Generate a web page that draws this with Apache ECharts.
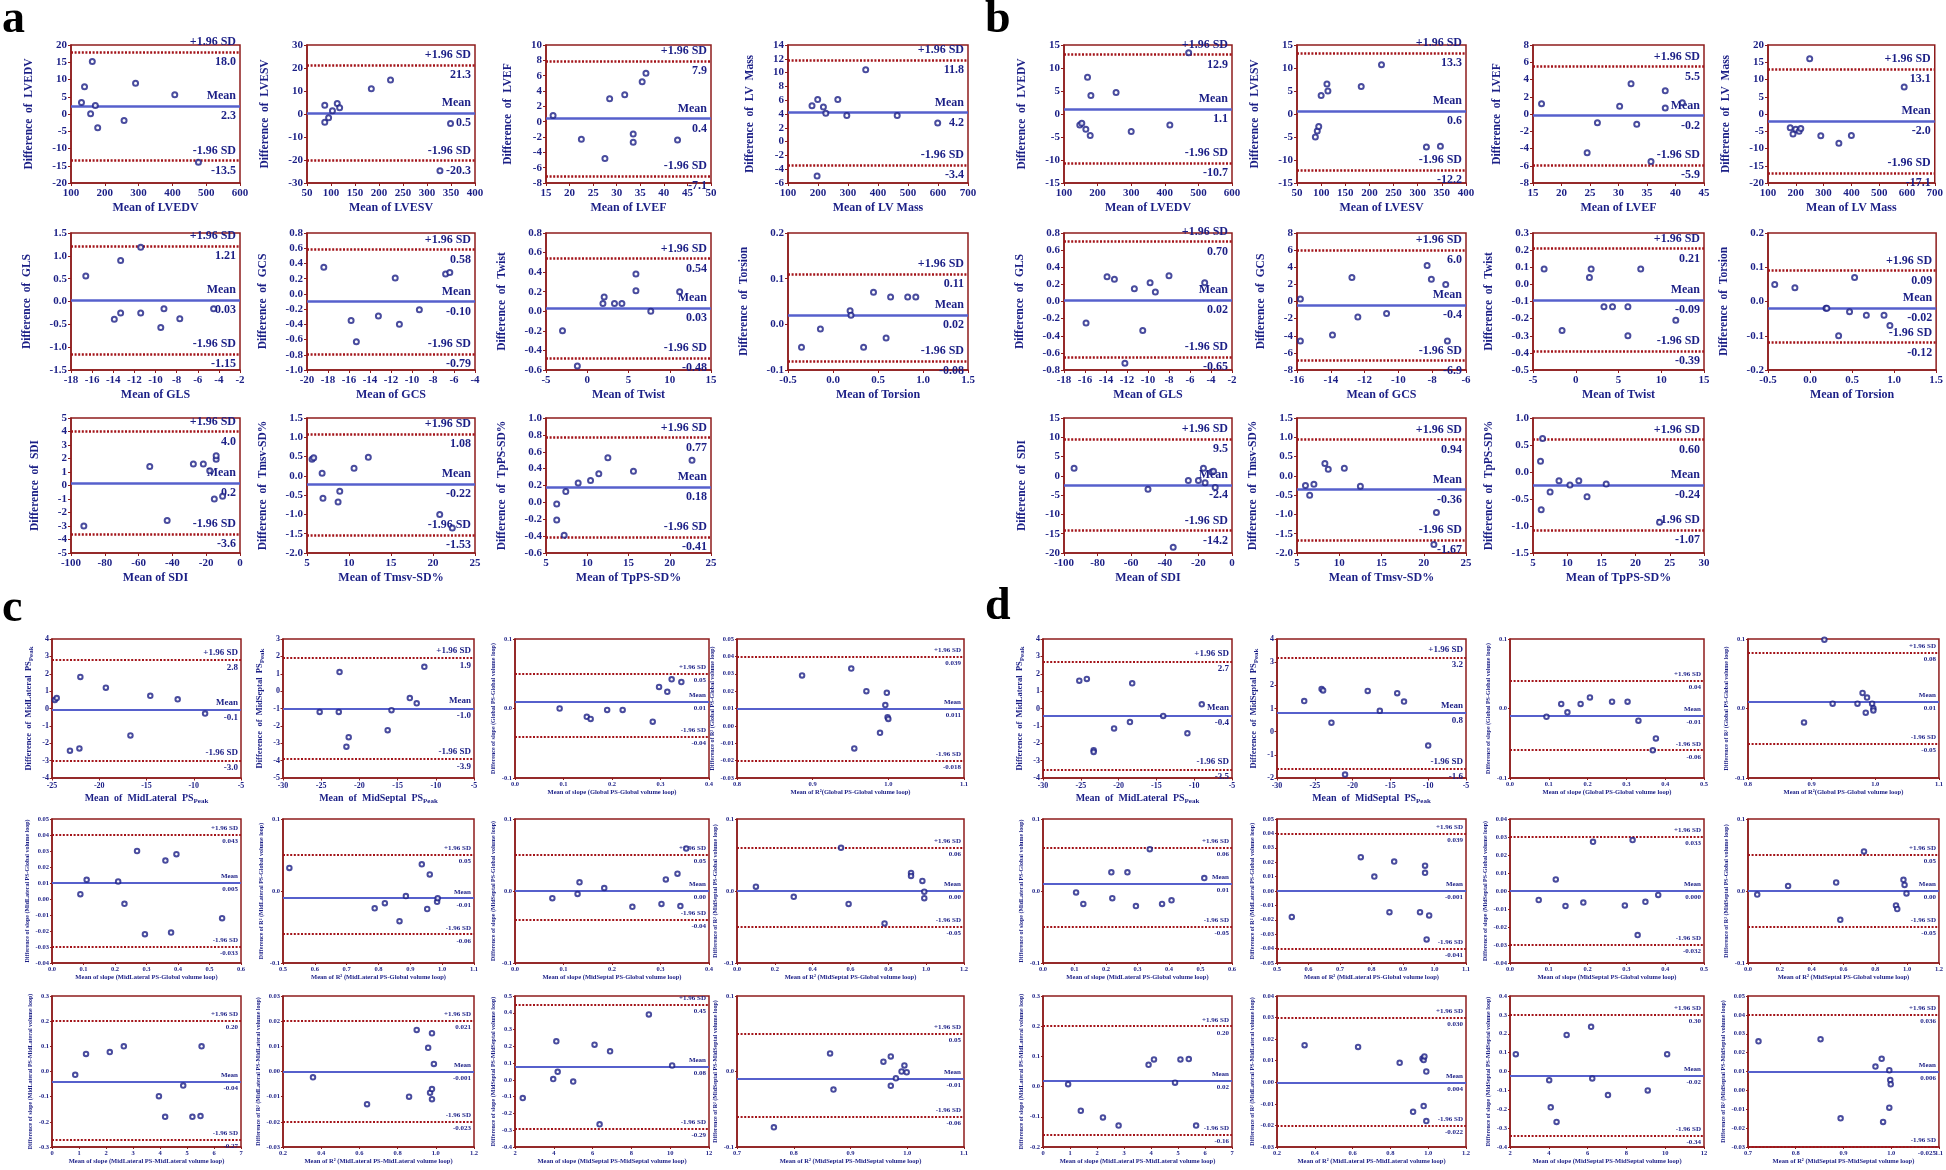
<!DOCTYPE html>
<html><head><meta charset="utf-8">
<script src="https://cdn.jsdelivr.net/npm/echarts@6/dist/echarts.min.js"></script>
<style>html,body{margin:0;padding:0;background:#fff}#c{width:1946px;height:1170px}</style>
</head><body><div id="c"></div>
<script>
// ===================== DATA =====================
// each plot: points [mean, difference], x axis [min,max,interval], y axis [min,max,interval], limits [+1.96SD, mean, -1.96SD]
// ---- panel a ----
const a1_pts = [[131,3.3],[140,7.9],[158,0.1],[163,15.2],[172,2.5],[179,-4.0],[257,-1.9],[291,8.9],[407,5.6],[477,-14.0]];
const a1_x = [100,600,100], a1_y = [-20,20,5], a1_sd = ['18.0','2.3','-13.5'];
const a2_pts = [[87,3.8],[87,-3.6],[95,-1.6],[103,1.4],[113,4.6],[118,2.7],[184,11.0],[224,14.8],[327,-24.7],[349,-4.1]];
const a2_x = [50,400,50], a2_y = [-30,30,10], a2_sd = ['21.3','0.5','-20.3'];
const a3_pts = [[16.5,0.8],[22.5,-2.3],[27.5,-4.8],[28.5,3.0],[31.7,3.5],[33.5,-1.6],[33.5,-2.7],[35.4,5.2],[36.2,6.3],[42.9,-2.4]];
const a3_x = [15,50,5], a3_y = [-8,10,2], a3_sd = ['7.9','0.4','-7.1'];
const a4_pts = [[180,5.2],[197,-5.0],[199,6.1],[218,5.0],[226,4.1],[266,6.1],[296,3.8],[359,10.4],[464,3.8],[599,2.7]];
const a4_x = [100,700,100], a4_y = [-6,14,2], a4_sd = ['11.8','4.2','-3.4'];
const a5_pts = [[-16.6,0.56],[-13.9,-0.39],[-13.3,0.9],[-13.3,-0.25],[-11.4,1.19],[-11.4,-0.25],[-9.5,-0.57],[-9.2,-0.16],[-7.7,-0.38],[-4.5,-0.16]];
const a5_x = [-18,-2,2], a5_y = [-1.5,1.5,0.5], a5_sd = ['1.21','0.03','-1.15'];
const a6_pts = [[-18.4,0.35],[-15.8,-0.35],[-15.3,-0.63],[-13.2,-0.29],[-11.6,0.21],[-11.2,-0.40],[-9.3,-0.21],[-6.8,0.26],[-6.4,0.28]];
const a6_x = [-20,-4,2], a6_y = [-1.0,0.8,0.2], a6_sd = ['0.58','-0.10','-0.79'];
const a7_pts = [[-3.0,-0.2],[-1.2,-0.56],[1.9,0.08],[2.05,0.145],[3.3,0.08],[4.2,0.08],[5.9,0.21],[5.9,0.38],[7.7,0.0],[11.2,0.2]];
const a7_x = [-5,15,5], a7_y = [-0.6,0.8,0.2], a7_sd = ['0.54','0.03','-0.48'];
const a8_pts = [[-0.35,-0.05],[-0.14,-0.01],[0.19,0.03],[0.20,0.02],[0.34,-0.05],[0.45,0.07],[0.59,-0.03],[0.64,0.06],[0.83,0.06],[0.92,0.06]];
const a8_x = [-0.5,1.5,0.5], a8_y = [-0.1,0.2,0.1], a8_sd = ['0.11','0.02','-0.08'];
const a9_pts = [[-92.4,-3.0],[-53.4,1.4],[-43.1,-2.6],[-27.6,1.6],[-21.7,1.6],[-17.9,1.1],[-15.2,-1.0],[-14.1,1.95],[-14.1,2.2],[-10.3,-0.8]];
const a9_x = [-100,0,20], a9_y = [-5,5,1], a9_sd = ['4.0','0.2','-3.6'];
const a10_pts = [[5.6,0.43],[5.8,0.47],[6.8,0.07],[6.9,-0.58],[8.7,-0.68],[8.9,-0.40],[10.6,0.20],[12.3,0.48],[20.8,-1.0],[22.3,-1.35]];
const a10_x = [5,25,5], a10_y = [-2.0,1.5,0.5], a10_sd = ['1.08','-0.22','-1.53'];
const a11_pts = [[6.3,-0.02],[6.3,-0.21],[7.2,-0.39],[7.4,0.13],[8.9,0.23],[10.4,0.26],[11.4,0.34],[12.5,0.53],[15.6,0.37],[22.7,0.50]];
const a11_x = [5,25,5], a11_y = [-0.6,1.0,0.2], a11_sd = ['0.77','0.18','-0.41'];
// ---- panel b ----
const b1_pts = [[147,-2.4],[153,-2.0],[165,-3.3],[170,8.0],[178,-4.7],[180,4.0],[255,4.7],[300,-3.8],[415,-2.4],[471,13.3]];
const b1_x = [100,600,100], b1_y = [-15,15,5], b1_sd = ['12.9','1.1','-10.7'];
const b2_pts = [[88,-5.0],[92,-3.7],[95,-2.7],[100,4.0],[112,6.5],[114,5.0],[183,6.0],[225,10.7],[318,-7.2],[347,-7.0]];
const b2_x = [50,400,50], b2_y = [-15,15,5], b2_sd = ['13.3','0.6','-12.2'];
const b3_pts = [[16.5,1.2],[24.5,-4.5],[26.3,-1.0],[30.2,0.9],[32.2,3.5],[33.2,-1.2],[35.7,-5.5],[38.2,2.7],[38.2,0.7],[41.2,1.3]];
const b3_x = [15,45,5], b3_y = [-8,8,2], b3_sd = ['5.5','-0.2','-5.9'];
const b4_pts = [[180,-4.0],[190,-5.8],[200,-4.4],[212,-5.0],[218,-4.2],[250,16.0],[290,-6.3],[355,-8.5],[400,-6.2],[590,7.8]];
const b4_x = [100,700,100], b4_y = [-20,20,5], b4_sd = ['13.1','-2.0','-17.1'];
const b5_pts = [[-15.9,-0.25],[-13.9,0.29],[-13.2,0.26],[-12.2,-0.72],[-11.3,0.15],[-10.5,-0.34],[-9.8,0.22],[-9.3,0.11],[-8.0,0.30],[-4.6,0.22]];
const b5_x = [-18,-2,2], b5_y = [-0.8,0.8,0.2], b5_sd = ['0.70','0.02','-0.65'];
const b6_pts = [[-15.8,0.3],[-15.8,-4.6],[-13.9,-3.9],[-12.75,2.8],[-12.4,-1.8],[-10.7,-1.4],[-8.3,4.2],[-8.05,2.6],[-7.2,2.0],[-7.1,-4.6]];
const b6_x = [-16,-6,2], b6_y = [-8,8,2], b6_sd = ['6.0','-0.4','-6.9'];
const b7_pts = [[-3.7,0.09],[-1.6,-0.27],[1.6,0.04],[1.8,0.09],[3.3,-0.13],[4.3,-0.13],[6.1,-0.13],[6.1,-0.30],[7.6,0.09],[11.7,-0.21]];
const b7_x = [-5,15,5], b7_y = [-0.5,0.3,0.1], b7_sd = ['0.21','-0.09','-0.39'];
const b8_pts = [[-0.42,0.05],[-0.18,0.04],[0.19,-0.02],[0.20,-0.02],[0.34,-0.10],[0.47,-0.03],[0.53,0.07],[0.67,-0.04],[0.88,-0.04],[0.95,-0.07]];
const b8_x = [-0.5,1.5,0.5], b8_y = [-0.2,0.2,0.1], b8_sd = ['0.09','-0.02','-0.12'];
const b9_pts = [[-94,2.0],[-50,-3.5],[-35,-18.5],[-26,-1.2],[-20,-1.2],[-17,2.0],[-16,-1.8],[-12,1.0],[-11,1.2],[-10,-3.0]];
const b9_x = [-100,0,20], b9_y = [-20,15,5], b9_sd = ['9.5','-2.4','-14.2'];
const b10_pts = [[6.0,-0.25],[6.5,-0.5],[7.0,-0.22],[8.3,0.32],[8.7,0.17],[10.6,0.2],[12.5,-0.27],[21.5,-0.95],[21.2,-1.78]];
const b10_x = [5,25,5], b10_y = [-2.0,1.5,0.5], b10_sd = ['0.94','-0.36','-1.67'];
const b11_pts = [[6.1,0.2],[6.4,0.62],[6.2,-0.70],[7.5,-0.37],[8.8,-0.16],[10.4,-0.24],[11.7,-0.16],[12.9,-0.46],[15.7,-0.22],[23.5,-0.93]];
const b11_x = [5,30,5], b11_y = [-1.5,1.0,0.5], b11_sd = ['0.60','-0.24','-1.07'];
// ---- panel c ----
const c1_pts = [[-24.7,0.49],[-24.5,0.6],[-23.1,-2.43],[-22.1,-2.3],[-22.0,1.82],[-19.3,1.2],[-16.7,-1.55],[-14.6,0.73],[-11.7,0.53],[-8.8,-0.29]];
const c1_x = [-25,-5,5], c1_y = [-4,4,1], c1_sd = ['2.8','-0.1','-3.0'];
const c2_pts = [[-25.2,-1.2],[-22.7,-1.2],[-22.6,1.1],[-21.7,-3.2],[-21.4,-2.65],[-16.3,-2.25],[-15.8,-1.1],[-13.4,-0.4],[-12.5,-0.7],[-11.5,1.4]];
const c2_x = [-30,-5,5], c2_y = [-5,3,1], c2_sd = ['1.9','-1.0','-3.9'];
const c3_pts = [[0.092,0.0],[0.148,-0.012],[0.156,-0.015],[0.19,-0.002],[0.222,-0.002],[0.284,-0.019],[0.297,0.031],[0.314,0.024],[0.323,0.042],[0.343,0.038]];
const c3_x = [0,0.4,0.1], c3_y = [-0.1,0.1,0.1], c3_sd = ['0.05','0.01','-0.04'];
const c4_pts = [[0.886,0.029],[0.951,0.033],[0.955,-0.013],[0.971,0.020],[0.989,-0.004],[0.996,0.012],[0.998,0.019],[0.999,0.005],[1.0,0.004]];
const c4_x = [0.8,1.1,0.1], c4_y = [-0.03,0.05,0.01], c4_sd = ['0.039','0.011','-0.018'];
const c5_pts = [[0.09,0.003],[0.11,0.012],[0.21,0.011],[0.23,-0.003],[0.27,0.030],[0.295,-0.022],[0.36,0.024],[0.378,-0.021],[0.395,0.028],[0.54,-0.012]];
const c5_x = [0,0.6,0.1], c5_y = [-0.04,0.05,0.01], c5_sd = ['0.043','0.005','-0.033'];
const c6_pts = [[0.52,0.032],[0.788,-0.024],[0.82,-0.017],[0.866,-0.042],[0.886,-0.007],[0.936,0.037],[0.953,-0.025],[0.961,0.023],[0.984,-0.015],[0.986,-0.010]];
const c6_x = [0.5,1.1,0.1], c6_y = [-0.1,0.1,0.1], c6_sd = ['0.05','-0.01','-0.06'];
const c7_pts = [[0.077,-0.010],[0.129,-0.004],[0.133,0.012],[0.184,0.004],[0.242,-0.022],[0.302,-0.018],[0.311,0.016],[0.335,0.024],[0.341,-0.021],[0.353,0.059]];
const c7_x = [0,0.4,0.1], c7_y = [-0.1,0.1,0.1], c7_sd = ['0.05','0.00','-0.04'];
const c8_pts = [[0.10,0.006],[0.30,-0.008],[0.55,0.06],[0.59,-0.018],[0.78,-0.045],[0.92,0.025],[0.92,0.021],[0.98,0.014],[0.99,-0.001],[0.99,-0.010]];
const c8_x = [0,1.2,0.2], c8_y = [-0.1,0.1,0.1], c8_sd = ['0.06','0.00','-0.05'];
const c9_pts = [[0.86,-0.013],[1.26,0.07],[2.14,0.077],[2.66,0.10],[3.96,-0.098],[4.19,-0.18],[4.86,-0.056],[5.2,-0.18],[5.5,-0.177],[5.54,0.10]];
const c9_x = [0,7,1], c9_y = [-0.3,0.3,0.1], c9_sd = ['0.20','-0.04','-0.27'];
const c10_pts = [[0.357,-0.0023],[0.64,-0.013],[0.86,-0.010],[0.90,0.0165],[0.96,0.0094],[0.97,-0.0084],[0.98,0.0152],[0.98,-0.007],[0.98,-0.011],[0.99,0.003]];
const c10_x = [0.2,1.2,0.2], c10_y = [-0.03,0.03,0.01], c10_sd = ['0.021','-0.001','-0.023'];
const c11_pts = [[2.4,-0.108],[3.97,0.005],[4.13,0.23],[4.2,0.048],[5.0,-0.01],[6.1,0.21],[6.36,-0.265],[6.9,0.17],[8.9,0.39],[10.1,0.086]];
const c11_x = [2,12,2], c11_y = [-0.4,0.5,0.1], c11_sd = ['0.45','0.08','-0.29'];
const c12_pts = [[0.765,-0.074],[0.864,0.024],[0.87,-0.024],[0.958,0.013],[0.971,0.020],[0.971,-0.019],[0.98,-0.009],[0.99,0.000],[0.995,0.008],[0.999,-0.001]];
const c12_x = [0.7,1.1,0.1], c12_y = [-0.1,0.1,0.1], c12_sd = ['0.05','-0.01','-0.06'];
// ---- panel d ----
const d1_pts = [[-25.2,1.6],[-24.2,1.7],[-23.3,-2.4],[-23.3,-2.5],[-20.6,-1.15],[-18.5,-0.78],[-18.2,1.45],[-14.1,-0.43],[-10.9,-1.43],[-9.0,0.24]];
const d1_x = [-30,-5,5], d1_y = [-4,4,1], d1_sd = ['2.7','-0.4','-3.5'];
const d2_pts = [[-26.4,1.32],[-24.1,1.84],[-23.9,1.78],[-22.8,0.39],[-21.0,-1.85],[-18.0,1.76],[-16.4,0.9],[-14.1,1.66],[-13.2,1.3],[-10.0,-0.6]];
const d2_x = [-30,-5,5], d2_y = [-2,4,1], d2_sd = ['3.2','0.8','-1.6'];
const d3_pts = [[0.094,-0.012],[0.132,0.0065],[0.148,-0.0055],[0.182,0.0065],[0.206,0.016],[0.263,0.0098],[0.303,0.0098],[0.331,-0.0175],[0.368,-0.06],[0.376,-0.043]];
const d3_x = [0,0.5,0.1], d3_y = [-0.1,0.1,0.1], d3_sd = ['0.04','-0.01','-0.06'];
const d4_pts = [[0.888,-0.02],[0.92,0.099],[0.933,0.007],[0.972,0.007],[0.98,0.0224],[0.985,-0.006],[0.987,0.0157],[0.995,0.007],[0.997,0.0002],[0.997,-0.0027]];
const d4_x = [0.8,1.1,0.1], d4_y = [-0.1,0.1,0.1], d4_sd = ['0.08','0.01','-0.05'];
const d5_pts = [[0.105,-0.002],[0.128,-0.018],[0.217,0.026],[0.22,-0.010],[0.268,0.026],[0.295,-0.021],[0.339,0.058],[0.378,-0.018],[0.408,-0.013],[0.512,0.018]];
const d5_x = [0,0.6,0.1], d5_y = [-0.1,0.1,0.1], d5_sd = ['0.06','0.01','-0.05'];
const d6_pts = [[0.547,-0.018],[0.766,0.0235],[0.809,0.010],[0.857,-0.0147],[0.872,0.0204],[0.954,-0.0147],[0.97,0.0176],[0.97,0.0126],[0.975,-0.0336],[0.983,-0.017]];
const d6_x = [0.5,1.1,0.1], d6_y = [-0.05,0.05,0.01], d6_sd = ['0.039','-0.001','-0.041'];
const d7_pts = [[0.074,-0.005],[0.118,0.0064],[0.143,-0.0083],[0.189,-0.0064],[0.214,0.0273],[0.296,-0.008],[0.316,0.0283],[0.329,-0.0245],[0.349,-0.006],[0.382,-0.0022]];
const d7_x = [0,0.5,0.1], d7_y = [-0.04,0.04,0.01], d7_sd = ['0.033','0.000','-0.032'];
const d8_pts = [[0.058,-0.005],[0.252,0.007],[0.554,0.0118],[0.58,-0.04],[0.729,0.055],[0.93,-0.020],[0.938,-0.025],[0.977,0.0156],[0.984,0.0085],[0.996,-0.0033]];
const d8_x = [0,1.2,0.2], d8_y = [-0.1,0.1,0.1], d8_sd = ['0.05','0.00','-0.05'];
const d9_pts = [[0.93,0.008],[1.4,-0.08],[2.22,-0.102],[2.8,-0.129],[3.91,0.072],[4.11,0.09],[4.89,0.013],[5.09,0.09],[5.4,0.091],[5.67,-0.129]];
const d9_x = [0,7,1], d9_y = [-0.2,0.3,0.1], d9_sd = ['0.20','0.02','-0.16'];
const d10_pts = [[0.346,0.0172],[0.629,0.0164],[0.849,0.009],[0.92,-0.0137],[0.97,0.011],[0.976,0.0103],[0.976,-0.011],[0.98,0.012],[0.99,0.005],[0.99,-0.018]];
const d10_x = [0.2,1.2,0.2], d10_y = [-0.03,0.04,0.01], d10_sd = ['0.030','0.004','-0.022'];
const d11_pts = [[2.3,0.092],[4.02,-0.046],[4.1,-0.19],[4.4,-0.267],[4.92,0.194],[6.18,0.237],[6.24,-0.037],[7.05,-0.125],[9.1,-0.10],[10.1,0.092]];
const d11_x = [2,12,2], d11_y = [-0.4,0.4,0.1], d11_sd = ['0.30','-0.02','-0.34'];
const d12_pts = [[0.722,0.026],[0.852,0.0271],[0.894,-0.0148],[0.967,0.0126],[0.98,0.0167],[0.983,-0.0167],[0.996,0.0107],[0.996,-0.0092],[0.998,0.0055],[0.999,0.0032]];
const d12_x = [0.7,1.1,0.1], d12_y = [-0.03,0.05,0.01], d12_sd = ['0.036','0.006','-0.025'];

// ---- titles ----
const ab_xn = ['Mean of LVEDV','Mean of LVESV','Mean of LVEF','Mean of LV Mass','Mean of GLS','Mean of GCS','Mean of Twist','Mean of Torsion','Mean of SDI','Mean of Tmsv-SD%','Mean of TpPS-SD%'];
const ab_yn = ['Difference  of  LVEDV','Difference  of  LVESV','Difference  of  LVEF','Difference  of  LV  Mass','Difference  of  GLS','Difference  of  GCS','Difference  of  Twist','Difference  of  Torsion','Difference  of  SDI','Difference  of  Tmsv-SD%','Difference  of  TpPS-SD%'];
const cd_xn = ['Mean  of  MidLateral  PS{s|Peak}','Mean  of  MidSeptal  PS{s|Peak}','Mean of slope (Global PS-Global volume loop)','Mean of R²(Global PS-Global volume loop)','Mean of slope (MidLateral PS-Global volume loop)','Mean of R² (MidLateral PS-Global volume loop)','Mean of slope (MidSeptal PS-Global volume loop)','Mean of R² (MidSeptal PS-Global volume loop)','Mean of slope (MidLateral PS-MidLateral volume loop)','Mean of R² (MidLateral PS-MidLateral volume loop)','Mean of slope (MidSeptal PS-MidSeptal volume loop)','Mean of R² (MidSeptal PS-MidSeptal volume loop)'];
const cd_yn = ['Difference  of  MidLateral  PS{s|Peak}','Difference  of  MidSeptal  PS{s|Peak}','Difference of slope (Global PS-Global volume loop)','Difference of R² (Global PS-Global volume loop)','Difference of slope (MidLateral PS-Global volume loop)','Difference of R² (MidLateral PS-Global volume loop)','Difference of slope (MidSeptal PS-Global volume loop)','Difference of R² (MidSeptal PS-Global volume loop)','Difference of slope (MidLateral PS-MidLateral volume loop)','Difference of R² (MidLateral PS-MidLateral volume loop)','Difference of slope (MidSeptal PS-MidSeptal volume loop)','Difference of R² (MidSeptal PS-MidSeptal volume loop)'];
const sd_names = ['+1.96 SD','Mean','-1.96 SD'];
const panel_letters = ['a','b','c','d'];

const A = [[a1_pts,a1_x,a1_y,a1_sd],[a2_pts,a2_x,a2_y,a2_sd],[a3_pts,a3_x,a3_y,a3_sd],[a4_pts,a4_x,a4_y,a4_sd],[a5_pts,a5_x,a5_y,a5_sd],[a6_pts,a6_x,a6_y,a6_sd],[a7_pts,a7_x,a7_y,a7_sd],[a8_pts,a8_x,a8_y,a8_sd],[a9_pts,a9_x,a9_y,a9_sd],[a10_pts,a10_x,a10_y,a10_sd],[a11_pts,a11_x,a11_y,a11_sd]];
const B = [[b1_pts,b1_x,b1_y,b1_sd],[b2_pts,b2_x,b2_y,b2_sd],[b3_pts,b3_x,b3_y,b3_sd],[b4_pts,b4_x,b4_y,b4_sd],[b5_pts,b5_x,b5_y,b5_sd],[b6_pts,b6_x,b6_y,b6_sd],[b7_pts,b7_x,b7_y,b7_sd],[b8_pts,b8_x,b8_y,b8_sd],[b9_pts,b9_x,b9_y,b9_sd],[b10_pts,b10_x,b10_y,b10_sd],[b11_pts,b11_x,b11_y,b11_sd]];
const C = [[c1_pts,c1_x,c1_y,c1_sd],[c2_pts,c2_x,c2_y,c2_sd],[c3_pts,c3_x,c3_y,c3_sd],[c4_pts,c4_x,c4_y,c4_sd],[c5_pts,c5_x,c5_y,c5_sd],[c6_pts,c6_x,c6_y,c6_sd],[c7_pts,c7_x,c7_y,c7_sd],[c8_pts,c8_x,c8_y,c8_sd],[c9_pts,c9_x,c9_y,c9_sd],[c10_pts,c10_x,c10_y,c10_sd],[c11_pts,c11_x,c11_y,c11_sd],[c12_pts,c12_x,c12_y,c12_sd]];
const D = [[d1_pts,d1_x,d1_y,d1_sd],[d2_pts,d2_x,d2_y,d2_sd],[d3_pts,d3_x,d3_y,d3_sd],[d4_pts,d4_x,d4_y,d4_sd],[d5_pts,d5_x,d5_y,d5_sd],[d6_pts,d6_x,d6_y,d6_sd],[d7_pts,d7_x,d7_y,d7_sd],[d8_pts,d8_x,d8_y,d8_sd],[d9_pts,d9_x,d9_y,d9_sd],[d10_pts,d10_x,d10_y,d10_sd],[d11_pts,d11_x,d11_y,d11_sd],[d12_pts,d12_x,d12_y,d12_sd]];

// ===================== LAYOUT & STYLE =====================
const ab_rows = [[45,183],[233,370],[418,553]];
const a_cols = [[71,240],[307,475],[546,711],[788,968]];
const b_cols = [[1064,1232],[1297,1466],[1533,1704],[1768,1942]];
const cd_rows = [[639,778],[819,963],[996,1147]];
const c_cols = [[52,241],[283,474],[515,709],[737,964]];
const d_cols = [[1043,1232],[1277,1466],[1510,1704],[1748,1940]];

const RED = '#8e1c1c', NAVY = '#1b1f86', BLUE = '#5660cc', SDRED = '#a3141a';
const FONT = '"Liberation Serif","Times New Roman",serif';
const ST_AB = {tick:11, name:12, yname:11.5, lab:12, sym:5, sbw:1.2, sdw:2.5, mw:2.5, bw:1.5, tl:3, xm:5, ym:4, xGap:19, yPad:17, ld:4, sub:8};
const ST_L  = {tick:8, name:10, yname:8.5, lab:9, sym:4.5, sbw:1.1, sdw:2.2, mw:2.2, bw:1.5, tl:2.5, xm:4, ym:3, xGap:15, yPad:8, ld:3, sub:7};
const ST_S  = {tick:6.5, name:6.5, yname:6, lab:7, sym:4.5, sbw:1.1, sdw:2.2, mw:2, bw:1.5, tl:2, xm:3, ym:3, xGap:11, yPad:5, ld:3, sub:5};

const cv = document.createElement('canvas').getContext('2d');
function textW(s, size){ cv.font = 'bold ' + size + 'px "Liberation Serif"'; return cv.measureText(s).width; }
function dec(v){ const s = String(v); const i = s.indexOf('.'); return i < 0 ? 0 : s.length - i - 1; }
function fmtN(v, d){ let s = Number(v).toFixed(d); if (/^-0(\.0+)?$/.test(s)) s = s.slice(1); return s; }
function tickVals(a){ const out = []; const n = Math.round((a[1]-a[0])/a[2]); for (let i = 0; i <= n; i++) out.push(a[0] + i*a[2]); return out; }

const option = {animation:false, backgroundColor:'#fff', grid:[], xAxis:[], yAxis:[], series:[], graphic:[]};

function addPlot(box, d, xn, yn, st){
  const [pts, xa, ya, sd] = d;
  const gi = option.grid.length;
  option.grid.push({left:box[0], top:box[1], width:box[2]-box[0], height:box[3]-box[1], show:true, borderColor:RED, borderWidth:st.bw, backgroundColor:'rgba(0,0,0,0)', containLabel:false});
  const xd = dec(xa[2]), yd = dec(ya[2]);
  const fx = v => fmtN(v, xd), fy = v => fmtN(v, yd);
  const yw = Math.max.apply(null, tickVals(ya).map(v => textW(fy(v), st.tick)));
  const lab = {color:NAVY, fontFamily:FONT, fontWeight:'bold', fontSize:st.tick};
  const rich = {s:{color:NAVY, fontFamily:FONT, fontWeight:'bold', fontSize:st.sub, padding:[st.sub*0.6,0,0,0]}};
  const common = {
    axisLine:{show:true, onZero:false, lineStyle:{color:RED, width:st.bw}},
    axisTick:{show:true, length:st.tl, lineStyle:{color:RED, width:1}},
    splitLine:{show:false}
  };
  option.xAxis.push(Object.assign({type:'value', gridIndex:gi, min:xa[0], max:xa[1], interval:xa[2],
    axisLabel:Object.assign({}, lab, {margin:st.xm, formatter:fx, showMinLabel:true, showMaxLabel:true}),
    name:xn, nameLocation:'middle', nameGap:st.xGap,
    nameTextStyle:{color:NAVY, fontFamily:FONT, fontWeight:'bold', fontSize:st.name, rich:rich}}, common));
  option.yAxis.push(Object.assign({type:'value', gridIndex:gi, min:ya[0], max:ya[1], interval:ya[2],
    axisLabel:Object.assign({}, lab, {margin:st.ym, formatter:fy, showMinLabel:true, showMaxLabel:true}),
    name:yn, nameLocation:'middle', nameRotate:90, nameGap:st.ym + yw + st.yPad,
    nameTextStyle:{color:NAVY, fontFamily:FONT, fontWeight:'bold', fontSize:st.yname, rich:rich}}, common));
  const lbl = (txt, pos) => ({show:true, position:pos, formatter:txt, distance:st.ld, color:NAVY, fontFamily:FONT, fontWeight:'bold', fontSize:st.lab, opacity:1});
  const sdLine = {type:[2,1.6], color:SDRED, width:st.sdw};
  const mLine = {type:'solid', color:BLUE, width:st.mw};
  const hidden = {type:'solid', color:'rgba(255,255,255,0)', width:1};
  const vals = sd.map(parseFloat);
  option.series.push({type:'scatter', xAxisIndex:gi, yAxisIndex:gi, data:pts, clip:false,
    symbol:'emptyCircle', symbolSize:st.sym, itemStyle:{color:NAVY, borderColor:NAVY, borderWidth:st.sbw}, silent:true, z:5,
    markLine:{silent:true, symbol:['none','none'], animation:false, z:3,
      data:[
        {yAxis:vals[0], lineStyle:sdLine, label:lbl(sd_names[0],'insideEndTop')},
        {yAxis:vals[0], lineStyle:hidden, label:lbl(sd[0],'insideEndBottom')},
        {yAxis:vals[1], lineStyle:mLine, label:lbl(sd_names[1],'insideEndTop')},
        {yAxis:vals[1], lineStyle:hidden, label:lbl(sd[1],'insideEndBottom')},
        {yAxis:vals[2], lineStyle:sdLine, label:lbl(sd_names[2],'insideEndTop')},
        {yAxis:vals[2], lineStyle:hidden, label:lbl(sd[2],'insideEndBottom')}
      ]}
  });
}

function abPos(i){ if (i < 4) return [0,i]; if (i < 8) return [1,i-4]; return [2,i-8]; }
A.forEach((d,i) => { const [r,c] = abPos(i); addPlot([a_cols[c][0], ab_rows[r][0], a_cols[c][1], ab_rows[r][1]], d, ab_xn[i], ab_yn[i], ST_AB); });
B.forEach((d,i) => { const [r,c] = abPos(i); addPlot([b_cols[c][0], ab_rows[r][0], b_cols[c][1], ab_rows[r][1]], d, ab_xn[i], ab_yn[i], ST_AB); });
C.forEach((d,i) => { const r = Math.floor(i/4), c = i%4; addPlot([c_cols[c][0], cd_rows[r][0], c_cols[c][1], cd_rows[r][1]], d, cd_xn[i], cd_yn[i], i < 2 ? ST_L : ST_S); });
D.forEach((d,i) => { const r = Math.floor(i/4), c = i%4; addPlot([d_cols[c][0], cd_rows[r][0], d_cols[c][1], cd_rows[r][1]], d, cd_xn[i], cd_yn[i], i < 2 ? ST_L : ST_S); });

const letterPos = [[2,20],[985,20],[2,609],[985,607]];
panel_letters.forEach((t,i) => option.graphic.push({type:'text', x:letterPos[i][0], y:letterPos[i][1], z:100,
  style:{text:t, font:'bold 46px "Liberation Serif"', fill:'#000', verticalAlign:'middle', align:'left'}}));

const chart = echarts.init(document.getElementById('c'), null, {renderer:'canvas', width:1946, height:1170});
chart.setOption(option);
</script></body></html>
